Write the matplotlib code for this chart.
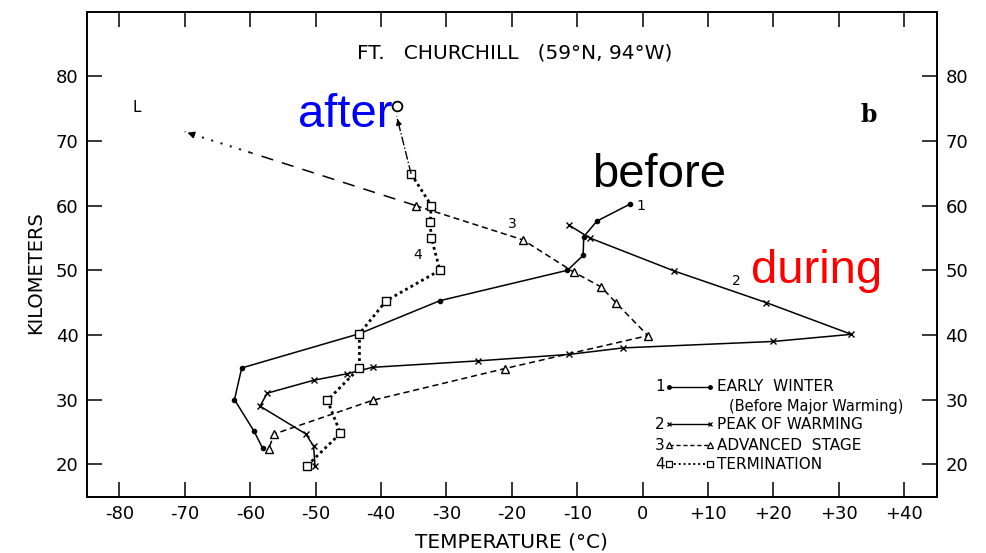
import matplotlib
matplotlib.use("Agg")
import matplotlib.pyplot as plt

# --- temperature profiles over Fort Churchill (deg C vs km) ---
early_T = [-2, -7, -9, -9.1, -11.5, -31, -43.3, -61.3, -62.4, -59.4, -58.1]
early_km = [60.2, 57.6, 55.2, 52.3, 50, 45.3, 40.2, 34.9, 30, 25.1, 22.5]

peak_T = [-11.3, -8.1, 4.8, 18.9, 31.9, 20.0, -3.0, -11.2, -25.1, -41.3, -45.2,
          -50.3, -57.4, -58.5, -51.5, -50.3, -50.1]
peak_km = [57.0, 55.0, 49.9, 45.0, 40.1, 39.0, 38.0, 37.0, 36.0, 35.0, 34.0,
           33.0, 31.0, 29.0, 24.7, 22.8, 19.8]

adv_T = [-34.7, -18.3, -10.5, -6.3, -4.1, 0.8, -21.1, -41.3, -56.3, -57.2]
adv_km = [60.0, 54.7, 49.7, 47.4, 45.0, 39.9, 34.8, 29.9, 24.7, 22.4]
adv_ext_T = [-34.7, -60.0, -70.0]
adv_ext_km = [60.0, 68.2, 71.4]

term_T = [-35.4, -32.3, -32.5, -32.3, -31.0, -39.2, -43.3, -43.3, -48.2, -46.2, -51.3]
term_km = [64.9, 60.0, 57.4, 55.0, 50.0, 45.3, 40.2, 34.9, 29.9, 24.8, 19.8]
term_ext_T = [-35.4, -37.6]
term_ext_km = [64.9, 73.8]
term_top = (-37.6, 75.4)

x_ticks = [-80, -70, -60, -50, -40, -30, -20, -10, 0, 10, 20, 30, 40]
x_ticklabels = ["-80", "-70", "-60", "-50", "-40", "-30", "-20", "-10", "0",
                "+10", "+20", "+30", "+40"]
y_ticks = [20, 30, 40, 50, 60, 70, 80]

legend_rows = [
    ("1", "EARLY  WINTER"),
    ("", "(Before Major Warming)"),
    ("2", "PEAK OF WARMING"),
    ("3", "ADVANCED  STAGE"),
    ("4", "TERMINATION"),
]

plt.rcParams["font.family"] = ["DejaVu Sans"]

fig = plt.figure(figsize=(9.86, 5.53), dpi=100)
ax = fig.add_axes([0.0879, 0.1018, 0.8624, 0.8774])
ax.set_xlim(-85, 45)
ax.set_ylim(15, 90)

lw = 1.1
# 1: early winter
ax.plot(early_T, early_km, color="k", lw=lw, marker="o", ms=3, mfc="k")
# 2: peak of warming
ax.plot(peak_T, peak_km, color="k", lw=lw, marker="x", ms=4, mew=1)
# 3: advanced stage
ax.plot(adv_T, adv_km, color="k", lw=lw, ls=(0, (4, 2.5)), marker="^", ms=6,
        mfc="white", mew=1)
ax.plot(adv_ext_T[:2], adv_ext_km[:2], color="k", lw=lw, ls=(0, (8, 6)))
ax.plot(adv_ext_T[1:], adv_ext_km[1:], color="k", lw=1.4, ls=(0, (1, 4)))
ax.annotate("", xy=(adv_ext_T[-1], adv_ext_km[-1]),
            xytext=(adv_ext_T[-1] + 1.5, adv_ext_km[-1] - 0.5),
            arrowprops=dict(arrowstyle="-|>", color="k", lw=1, mutation_scale=10))
# 4: termination
ax.plot(term_T, term_km, color="k", lw=2, ls=(0, (1, 1.2)), marker="s", ms=6,
        mfc="white", mew=1)
ax.plot(term_ext_T, term_ext_km, color="k", lw=1, ls="-.")
ax.annotate("", xy=(term_ext_T[-1], term_ext_km[-1]),
            xytext=(term_ext_T[-1] + 0.3, term_ext_km[-1] - 1.2),
            arrowprops=dict(arrowstyle="-|>", color="k", lw=1, mutation_scale=8))
ax.plot([term_top[0]], [term_top[1]], marker="o", ms=7, mfc="white", mec="k", mew=1.3)

# curve numbers
ax.text(-0.3, 59.9, "1", fontsize=10, ha="center", va="center")
ax.text(14.4, 48.3, "2", fontsize=10, ha="center", va="center")
ax.text(-19.9, 57.2, "3", fontsize=10, ha="center", va="center")
ax.text(-34.4, 52.3, "4", fontsize=10, ha="center", va="center")
ax.text(-77.4, 75.1, "L", fontsize=11, ha="center", va="center")

# station title and panel letter
ax.text(-19.6, 83.6, "FT.   CHURCHILL   (59°N, 94°W)", fontsize=14.5,
        ha="center", va="center")
ax.text(34.5, 74.0, "b", fontsize=17, fontweight="bold", family="DejaVu Serif",
        ha="center", va="center")

# phase annotations
ann_font = dict(fontsize=34, family="Liberation Sans", ha="left", va="baseline")
ax.text(-52.7, 72.2, "after", color="#0000ff", **ann_font)
ax.text(-7.8, 62.9, "before", color="black", **ann_font)
ax.text(16.6, 48.1, "during", color="#ff0000", **ann_font)

# hand-drawn key in the lower right
row_y = [0.2267, 0.1869, 0.1498, 0.1065, 0.0674]
x0, x1 = 0.6845, 0.7325
styles = [
    dict(ls="-", marker="o", ms=2.5, mfc="k", lw=1),
    None,
    dict(ls="-", marker="x", ms=3.5, mew=0.9, lw=1),
    dict(ls=(0, (3, 2)), marker="^", ms=4.5, mfc="white", mew=0.9, lw=1),
    dict(ls=(0, (1, 1.5)), marker="s", ms=4.5, mfc="white", mew=0.9, lw=1.4),
]
for (num, label), y, st in zip(legend_rows, row_y, styles):
    if st is not None:
        ax.plot([x0, x1], [y, y], color="k", transform=ax.transAxes,
                clip_on=False, **st)
        ax.text(0.6795, y, num, transform=ax.transAxes, fontsize=11,
                ha="right", va="center")
        ax.text(0.741, y, label, transform=ax.transAxes, fontsize=11,
                ha="left", va="center")
    else:
        ax.text(0.7553, y, label, transform=ax.transAxes, fontsize=10.5,
                ha="left", va="center")

# axes, ticks and labels
ax.set_xticks(x_ticks)
ax.set_xticklabels(x_ticklabels)
ax.set_yticks(y_ticks)
ax.tick_params(axis="both", which="major", direction="in", length=11, width=1.1,
               labelsize=13, top=True, right=True, labelright=True, pad=6)
for sp in ax.spines.values():
    sp.set_linewidth(1.4)

ax.set_xlabel("TEMPERATURE (°C)", fontsize=14.5, labelpad=7)
ax.set_ylabel("KILOMETERS", fontsize=14)
ax.yaxis.set_label_coords(-0.0490, 0.461)

fig.savefig("out.png", dpi=100)
